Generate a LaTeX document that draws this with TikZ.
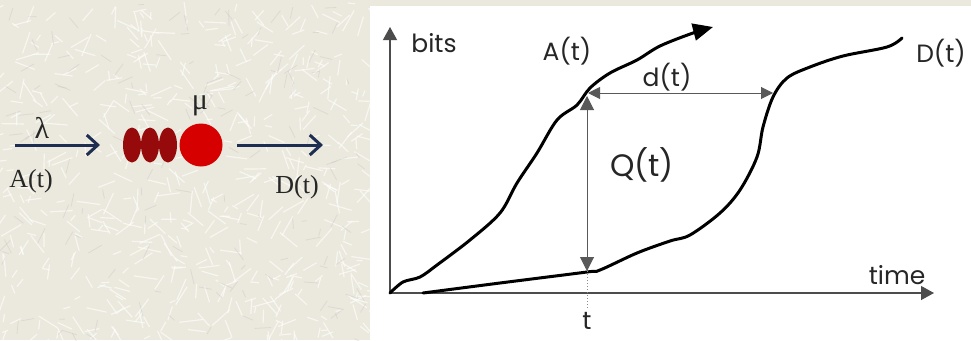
\documentclass[tikz,border=0pt]{standalone}
\usepackage{fontspec}
\setmainfont{Liberation Serif}
\newfontfamily\comic{Poppins}
\usetikzlibrary{arrows.meta,shapes.geometric}
\definecolor{bgbeige}{RGB}{235,233,221}
\definecolor{navy}{RGB}{30,45,82}
\definecolor{maroon}{RGB}{150,10,12}
\definecolor{brightred}{RGB}{214,0,0}
\begin{document}
\begin{tikzpicture}[x=1pt,y=-1pt,
  flowarrow/.style={navy, line width=3pt, -{Straight Barb[length=11pt,width=20pt]}},
  bead/.style={ellipse, fill=maroon, minimum width=18pt, minimum height=35pt, inner sep=0pt},
  server/.style={circle, fill=brightred, minimum size=43pt, inner sep=0pt},
  serif/.style={font=\fontsize{26}{28}\selectfont, text=black!85},
  greek/.style={font=\fontsize{30}{32}\selectfont, text=black!85},
  axis/.style={draw=black!70, line width=1.2pt, -{Triangle[length=13pt,width=14pt]}},
  curve/.style={draw=black, line width=3pt, line cap=round, line join=round},
  dim/.style={draw=black!65, line width=1pt},
  hand/.style={font=\comic\fontsize{25}{27}\selectfont, text=black!85},
]
\useasboundingbox (0,0) rectangle (971,340);
% textured background
\fill[bgbeige] (0,0) rectangle (971,340);
\pgfmathsetseed{12}
\foreach \i in {1,...,550}{
  \pgfmathsetmacro\px{rnd*372}
  \pgfmathsetmacro\py{rnd*340}
  \pgfmathsetmacro\ang{rnd*180}
  \pgfmathsetmacro\len{6+rnd*18}
  \draw[white, opacity=0.6, line width=1.2pt] (\px,\py) -- ++(\ang:\len);
}
\foreach \i in {1,...,150}{
  \pgfmathsetmacro\px{rnd*372}
  \pgfmathsetmacro\py{rnd*340}
  \pgfmathsetmacro\ang{rnd*180}
  \pgfmathsetmacro\len{5+rnd*12}
  \draw[black!25, opacity=0.35, line width=0.8pt] (\px,\py) -- ++(\ang:\len);
}
\fill[white] (370,6) rectangle (971,340);

% ---- left: queue ----
\coordinate (in1) at (15,145);
\coordinate (in2) at (100,145);
\draw[flowarrow] (in1) -- (in2);
\node[greek] (lam) at (42,128) {λ};
\node[serif] (At) at (31,181) {A(t)};
\node[bead] (b1) at (132,145) {};
\node[bead] (b2) at (150,145) {};
\node[bead] (b3) at (168,145) {};
\node[server] (srv) at (201,145) {};
\node[greek] (mu) at (200,106) {μ};
\coordinate (out1) at (237,145);
\coordinate (out2) at (323,145);
\draw[flowarrow] (out1) -- (out2);
\node[serif] (Dt) at (297,187) {D(t)};

% ---- right: graph ----
\coordinate (O) at (390,293);
\coordinate (ytip) at (390,27);
\coordinate (xtip) at (934,293);
\draw[axis] (O) -- (ytip);
\draw[axis] (O) -- (xtip);

\draw[curve, -{Triangle[length=20pt,width=17pt]}] plot[smooth, tension=0.55] coordinates {
  (390,293) (403,282) (420,277) (437,265) (470,240) (500,213) (517,183)
  (537,153) (557,120) (577,105) (590,88) (610,73) (637,60) (660,46)
  (693,33) (713,27)};
\draw[curve] plot[smooth, tension=0.55] coordinates {
  (423,293) (500,283) (587,272) (600,270) (637,253) (670,241) (690,235)
  (720,213) (740,190) (757,157) (763,127) (773,97) (787,78) (810,67)
  (843,56) (887,47) (902,38)};

\coordinate (qa) at (587,96);
\coordinate (qd) at (587,271);
\coordinate (da) at (588,93);
\coordinate (db) at (773,93);
\coordinate (tb) at (587,308);
\draw[dim, {Triangle[length=14pt,width=14pt]}-{Triangle[length=14pt,width=14pt]}] (qa) -- (qd);
\draw[dim, {Triangle[length=12pt,width=12pt]}-{Triangle[length=12pt,width=12pt]}] (da) -- (db);
\draw[black!45, line width=1pt, dotted] (qd) -- (tb);

\node[hand] (bits) at (434,43) {bits};
\node[hand] (Alab) at (567,51) {A(t)};
\node[hand] (dlab) at (667,77) {d(t)};
\node[hand, font=\comic\fontsize{31}{33}\selectfont] (Qlab) at (642,165) {Q(t)};
\node[hand] (Dlab) at (941,53) {D(t)};
\node[hand] (time) at (897,275) {time};
\node[hand] (tlab) at (587,321) {t};
\end{tikzpicture}
\end{document}
